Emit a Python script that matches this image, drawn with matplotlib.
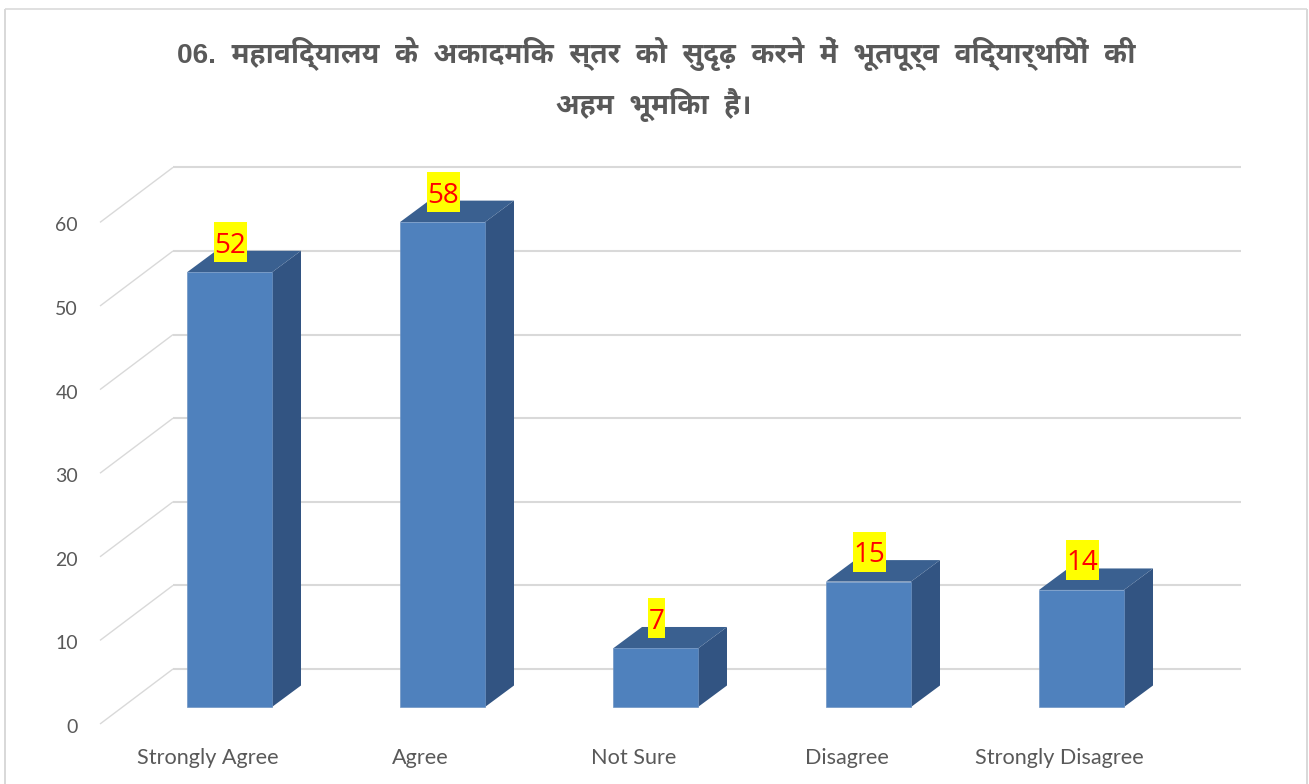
import matplotlib
matplotlib.use("Agg")
import matplotlib.pyplot as plt
from matplotlib.patches import Polygon, Rectangle

categories = ["Strongly Agree", "Agree", "Not Sure", "Disagree", "Strongly Disagree"]
values = [52, 58, 7, 15, 14]
y_ticks = [0, 10, 20, 30, 40, 50, 60]
title_lines = ["06. महाविद्यालय के अकादमिक स्तर को सुदृढ़ करने में भूतपूर्व विद्यार्थियों की",
               "अहम भूमिका है।"]

W, H = 1309, 784
PX_X, PX_Y = 213.0, 8.36     # pixels per category / per value unit
X0, Y0 = 229.5, 707.0        # pixel of first category centre / of value 0 at bar front

fig = plt.figure(figsize=(W / 100, H / 100), dpi=100)
ax = fig.add_axes([0, 0, 1, 1])
ax.set_xlim((0 - X0) / PX_X, (W - X0) / PX_X)
ax.set_ylim((Y0 - H) / PX_Y, Y0 / PX_Y)
ax.axis("off")


def px(x, y):
    return (x - X0) / PX_X, (Y0 - y) / PX_Y


GRID = "#d9d9d9"
TEXT = "#595959"
FRONT, SIDE, TOP = "#4f81bd", "#325482", "#3a6090"
BAR_W = 85 / PX_X
DX, DY = 29 / PX_X, 21.5 / PX_Y

# chart frame
for a, b, lw in [((4.5, 784), (4.5, 8.5), 2.0), ((4.5, 8.5), (1306.5, 8.5), 1.6),
                 ((1306.5, 8.5), (1306.5, 784), 2.0)]:
    xa, ya = px(*a)
    xb, yb = px(*b)
    ax.plot([xa, xb], [ya, yb], color="#d9d9d9", lw=lw * 0.72, solid_capstyle="butt", zorder=1)

# gridlines: back wall and side wall, one set per tick
wall_x, right_x, tick_x = px(173, 0)[0], px(1241, 0)[0], px(100, 0)[0]
wall_base = (Y0 - 669) / PX_Y
front_base = (Y0 - 724) / PX_Y
for t in y_ticks:
    ax.plot([wall_x, right_x], [wall_base + t, wall_base + t], color=GRID, lw=1.5,
            solid_capstyle="butt", zorder=2)
    ax.plot([tick_x, wall_x], [front_base + t, wall_base + t], color=GRID, lw=1.0,
            solid_capstyle="butt", zorder=2)
    ax.text(px(78, 0)[0], front_base + t - 2 / PX_Y, str(t), ha="right", va="center_baseline",
            family="Lato", fontsize=14, color=TEXT)

# 3-D bars
for i, (name, v) in enumerate(zip(categories, values)):
    l, r = i - BAR_W / 2, i + BAR_W / 2
    ax.add_patch(Polygon([(r, 0), (r + DX, DY), (r + DX, v + DY), (r, v)], fc=SIDE, ec="none", zorder=3))
    ax.add_patch(Polygon([(l, v), (l + DX, v + DY), (r + DX, v + DY), (r, v)], fc=TOP, ec="none", zorder=3))
    ax.add_patch(Rectangle((l, 0), r - l, v, fc=FRONT, ec="#6f94c4", lw=0.5, zorder=4))
    # data label
    s = str(v)
    bw = (16.5 * len(s)) / PX_X
    ax.add_patch(Rectangle((i + 1 / PX_X - bw / 2, v + 10 / PX_Y), bw, 40 / PX_Y,
                           fc="#ffff00", ec="none", zorder=5))
    ax.text(i + 1 / PX_X, v + 30 / PX_Y, s, ha="center", va="center_baseline",
            family="Open Sans", fontsize=20, color="#ff0000", zorder=6)
    # category label
    ax.text(i - 22 / PX_X, px(0, 756)[1], name, ha="center", va="center_baseline",
            family="Lato", fontsize=15.6, color=TEXT)

# title
fam = ["Liberation Sans", "Noto Sans Devanagari UI"]
ax.text(px(656, 0)[0], px(0, 63)[1], title_lines[0].replace(" ", "  "), ha="center", va="baseline",
        family=fam, weight="bold", fontsize=20.2, color=TEXT)
ax.text(px(654, 0)[0], px(0, 114)[1], title_lines[1].replace(" ", "  "), ha="center", va="baseline",
        family=fam, weight="bold", fontsize=20.2, color=TEXT)

fig.savefig("out.png", dpi=100)
